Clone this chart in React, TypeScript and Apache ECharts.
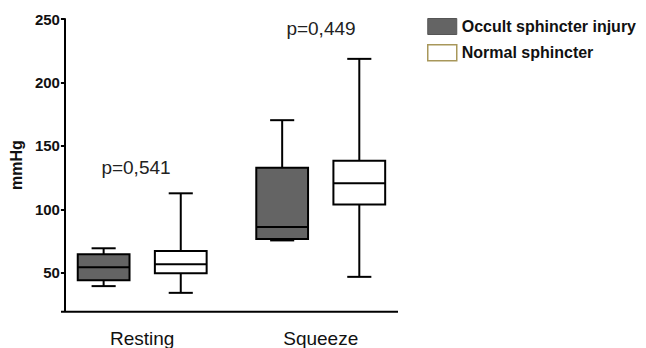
import React, { useEffect, useRef } from "react";
import * as echarts from "echarts";

const categories = ["Resting", "Squeeze"];
const seriesNames = ["Occult sphincter injury", "Normal sphincter"];
// [categoryIndex, min, q1, median, q3, max]
const occultValues = [
  [0, 39.6, 44.3, 54.5, 64.7, 69.4],
  [1, 75.6, 76.7, 86.1, 132.9, 170.3],
];
const normalValues = [
  [0, 34.3, 49.8, 56.8, 67.3, 112.7],
  [1, 46.9, 103.9, 120.6, 138.4, 218.6],
];
const yTicks = [50, 100, 150, 200, 250];
const pLabels = ["p=0,541", "p=0,449"];

const FONT = "'Liberation Sans', Arial, sans-serif";

function makeRender(offset: number, fill: string) {
  return (params: any, api: any) => {
    const cat = api.value(0);
    const band = api.size([1, 0])[0];
    const cx = api.coord([cat, 0])[0] + offset * band;
    const y = (i: number) => api.coord([cat, api.value(i)])[1];
    const yMin = y(1), yQ1 = y(2), yMed = y(3), yQ3 = y(4), yMax = y(5);
    const bw = 0.29 * band;
    const cw = 0.135 * band;
    const ls = { stroke: "#000", lineWidth: 2 };
    return {
      type: "group",
      children: [
        { type: "line", shape: { x1: cx, y1: yMax, x2: cx, y2: yQ3 }, style: ls },
        { type: "line", shape: { x1: cx, y1: yQ1, x2: cx, y2: yMin }, style: ls },
        { type: "line", shape: { x1: cx - cw / 2, y1: yMax, x2: cx + cw / 2, y2: yMax }, style: ls },
        { type: "line", shape: { x1: cx - cw / 2, y1: yMin, x2: cx + cw / 2, y2: yMin }, style: ls },
        {
          type: "rect",
          shape: { x: cx - bw / 2, y: yQ3, width: bw, height: yQ1 - yQ3 },
          style: { fill, stroke: "#000", lineWidth: 2 },
        },
        { type: "line", shape: { x1: cx - bw / 2, y1: yMed, x2: cx + bw / 2, y2: yMed }, style: ls },
      ],
    };
  };
}

export default function App() {
  const ref = useRef<HTMLDivElement>(null);
  useEffect(() => {
    if (!ref.current) return;
    const chart = echarts.init(ref.current, null, { renderer: "svg" });
    chart.setOption({
      animation: false,
      backgroundColor: "#fff",
      grid: { left: 50, right: 236, top: 19, bottom: 36.3 },
      legend: {
        orient: "vertical",
        left: 427,
        top: 18,
        padding: 0,
        itemWidth: 29,
        itemHeight: 16,
        itemGap: 9,
        textStyle: { fontFamily: FONT, fontWeight: "bold", fontSize: 16, color: "#111" },
        data: [
          { name: seriesNames[0], icon: "rect", itemStyle: { color: "#646464", borderColor: "#555", borderWidth: 1 } },
          { name: seriesNames[1], icon: "rect", itemStyle: { color: "#fff", borderColor: "#a8975a", borderWidth: 1.5 } },
        ],
      },
      xAxis: {
        type: "category",
        data: categories,
        axisLine: { show: false },
        axisTick: { show: false },
        axisLabel: { fontFamily: FONT, fontSize: 19, color: "#111", margin: 18 },
      },
      yAxis: {
        type: "value",
        min: 20,
        max: 250,
        offset: -12,
        splitLine: { show: false },
        axisLine: { show: true, lineStyle: { color: "#000", width: 2 } },
        axisTick: { show: true, length: 4, lineStyle: { color: "#000", width: 2 }, customValues: yTicks },
        axisLabel: {
          fontFamily: FONT,
          fontWeight: "bold",
          fontSize: 15,
          color: "#111",
          margin: 5,
          customValues: yTicks,
        },
        name: "mmHg",
        nameLocation: "middle",
        nameRotate: 90,
        nameGap: 38,
        nameTextStyle: { fontFamily: FONT, fontWeight: "bold", fontSize: 16, color: "#111" },
      },
      graphic: [
        {
          type: "line",
          shape: { x1: 61, y1: 311.7, x2: 398, y2: 311.7 },
          style: { stroke: "#000", lineWidth: 2 },
        },
        {
          type: "text",
          x: 136,
          y: 167,
          style: { text: pLabels[0], fontFamily: FONT, fontSize: 19, fill: "#222", align: "center", verticalAlign: "middle" },
        },
        {
          type: "text",
          x: 321,
          y: 28,
          style: { text: pLabels[1], fontFamily: FONT, fontSize: 19, fill: "#222", align: "center", verticalAlign: "middle" },
        },
      ],
      series: [
        {
          name: seriesNames[0],
          type: "custom",
          itemStyle: { color: "#646464" },
          encode: { x: 0, y: [1, 2, 3, 4, 5] },
          renderItem: makeRender(-0.216, "#646464"),
          data: occultValues,
        },
        {
          name: seriesNames[1],
          type: "custom",
          itemStyle: { color: "#fff" },
          encode: { x: 0, y: [1, 2, 3, 4, 5] },
          renderItem: makeRender(0.216, "#fff"),
          data: normalValues,
        },
      ],
    });
    return () => chart.dispose();
  }, []);
  return (
    <div
      ref={ref}
      style={{ position: "fixed", left: 0, top: 0, width: 646, height: 348, background: "#fff" }}
    />
  );
}
